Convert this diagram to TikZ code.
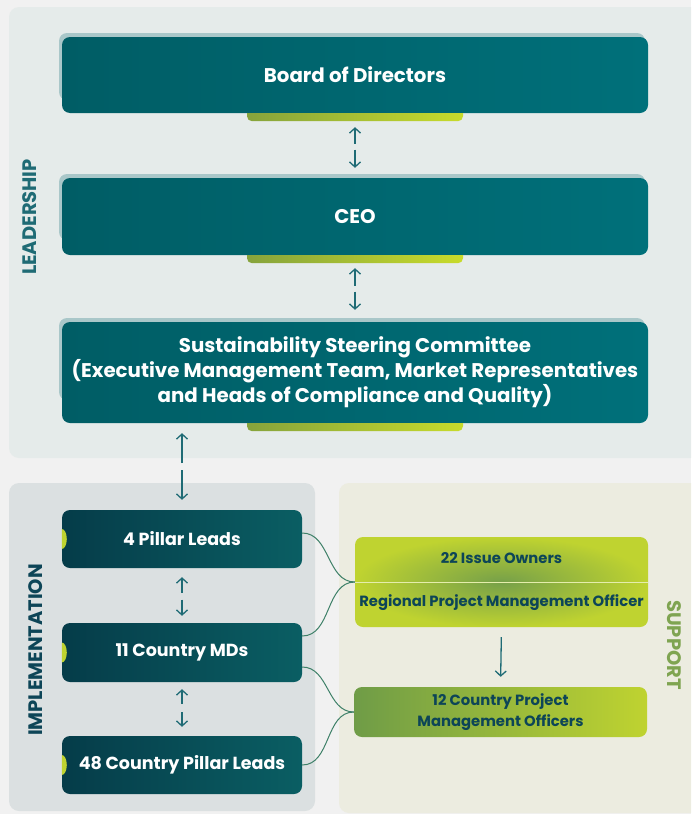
\documentclass[tikz,border=0pt]{standalone}
\usepackage{fontspec}
\setmainfont{Poppins}
\usetikzlibrary{arrows.meta,calc}

\definecolor{pageBg}{HTML}{F1F1F1}
\definecolor{leadPanel}{HTML}{E5EBEA}
\definecolor{implPanel}{HTML}{DBE0E1}
\definecolor{suppPanel}{HTML}{ECECE0}
\definecolor{leadA}{HTML}{005D65}
\definecolor{leadB}{HTML}{00707A}
\definecolor{leadShadow}{HTML}{A9C7C9}
\definecolor{barA}{HTML}{86A33C}
\definecolor{barB}{HTML}{C8DB2B}
\definecolor{implA}{HTML}{053C49}
\definecolor{implB}{HTML}{0A5E63}
\definecolor{suppOut}{HTML}{BFD330}
\definecolor{suppIn}{HTML}{76A049}
\definecolor{suppDark}{HTML}{6F9C47}
\definecolor{darkText}{HTML}{0D4557}
\definecolor{arrowCol}{HTML}{1F6B75}
\definecolor{linkCol}{HTML}{3E8068}
\definecolor{suppLabel}{HTML}{7FA451}

\tikzstyle{panel}=[rounded corners=10pt]
\tikzstyle{lShadow}=[fill=leadShadow, rounded corners=8pt]
\tikzstyle{lBox}=[rounded corners=8pt, minimum width=586pt, inner sep=0pt, align=center, text=white, left color=leadA, right color=leadB, font=\bfseries\fontsize{19.8}{25}\selectfont]
\tikzstyle{gBar}=[left color=barA, right color=barB]
\tikzstyle{iBox}=[rounded corners=8pt, minimum width=240pt, minimum height=58pt, inner sep=0pt, align=center, text=white, left color=implA, right color=implB, font=\bfseries\fontsize{17.5}{21}\selectfont]
\tikzstyle{notch}=[fill=suppOut]
\tikzstyle{sBox}=[rounded corners=8pt, minimum width=293pt, inner sep=0pt, align=center, text=darkText, font=\bfseries\fontsize{14.8}{21}\selectfont]
\tikzstyle{sText}=[inner sep=0pt, text=darkText, font=\bfseries\fontsize{14.8}{19}\selectfont]
\tikzstyle{side}=[rotate=90, font=\bfseries\fontsize{19.5}{20}\selectfont]
\tikzstyle{tip}=[draw=arrowCol, line width=1.3pt, -{Straight Barb[length=5pt,width=11pt]}]
\tikzstyle{link}=[draw=linkCol, line width=1pt]

\begin{document}
\begin{tikzpicture}[x=1pt, y=-1pt]

                % page and the three panels
                \fill[pageBg] (0,0) rectangle (691,814);
                \useasboundingbox (0,0) rectangle (691,814);
                \begin{scope}
                \clip (0,0) rectangle (691,814);
                \fill[panel, leadPanel] (9,7) rectangle (705,458);
                \fill[panel, implPanel] (9,483) rectangle (315,811);
                \fill[panel, suppPanel] (339,483) rectangle (705,813);
                \end{scope}

                \draw (30,217) node[side, text=arrowCol] (lead) {LEADERSHIP};
                \draw (36,650) node[side, text=darkText] (impl) {IMPLEMENTATION};
                \draw (674,645) node[side, rotate=180, text=suppLabel] (supp) {SUPPORT};

                % leadership
                \fill[lShadow] (59,33) rectangle (645,100);
                \draw (355,75) node[lBox, minimum height=76pt] (bod) {Board of Directors};
                \fill[lShadow] (59,174) rectangle (645,240);
                \draw (355,216.5) node[lBox, minimum height=77pt] (ceo) {CEO};
                \fill[lShadow] (59,318) rectangle (645,400);
                \draw (355,372.5) node[lBox, minimum height=101pt] (ssc) {Sustainability Steering Committee\\(Executive Management Team, Market Representatives\\and Heads of Compliance and Quality)};

                \shade[gBar] ($(bod.south)+(-108,0)$) [rounded corners=5pt] -- ++(0,8) -- ++(216,0) [sharp corners] -- ++(0,-8) -- cycle;
                \shade[gBar] ($(ceo.south)+(-108,0)$) [rounded corners=5pt] -- ++(0,8) -- ++(216,0) [sharp corners] -- ++(0,-8) -- cycle;
                \shade[gBar] ($(ssc.south)+(-108,0)$) [rounded corners=5pt] -- ++(0,8) -- ++(216,0) [sharp corners] -- ++(0,-8) -- cycle;

                % implementation
                \draw (182,539) node[iBox] (pl) {4 Pillar Leads};
                \draw (182,652.5) node[iBox, minimum height=59pt] (md) {11 Country MDs};
                \draw (182,765) node[iBox] (cpl) {48 Country Pillar Leads};
                \fill[notch] ($(pl.west)+(0,10)$) arc[start angle=90, end angle=-90, x radius=5, y radius=10] -- cycle;
                \fill[notch] ($(md.west)+(0,10)$) arc[start angle=90, end angle=-90, x radius=5, y radius=10] -- cycle;
                \fill[notch] ($(cpl.west)+(0,10)$) arc[start angle=90, end angle=-90, x radius=5, y radius=10] -- cycle;

                % support
                \draw (501.5,582) node[sBox, minimum height=90pt, inner color=suppIn, outer color=suppOut] (io) {};
                \draw[white!60!suppOut, line width=0.6pt] (io.west) -- (io.east);
                \draw (501.5,558) node[sText] (ioTop) {22 Issue Owners};
                \draw (501.5,603) node[sText] (ioBot) {Regional Project Management Officer};
                \draw (500.5,712) node[sBox, minimum height=50pt, left color=suppDark, right color=suppOut] (cpo) {12 Country Project\\Management Officers};

                % arrows
                \coordinate (m1) at ($(bod.south)!.5!(ceo.north)$);
                \coordinate (m2) at ($(ceo.south)!.5!(ssc.north)$);
                \coordinate (m3) at ($(ssc.south -| pl.north)!.5!(pl.north)$);
                \coordinate (m4) at ($(pl.south)!.5!(md.north)$);
                \coordinate (m5) at ($(md.south)!.5!(cpl.north)$);
                \draw[tip, shorten <=2pt, shorten >=14pt] (m1) -- (bod.south);
                \draw[tip, shorten <=4pt, shorten >=10pt] (m1) -- (ceo.north);
                \draw[tip, shorten <=3pt, shorten >=13pt] (m2) -- (ceo.south);
                \draw[tip, shorten <=3pt, shorten >=12pt] (m2) -- (ssc.north);
                \draw[tip, shorten <=3.5pt, shorten >=10pt] (m3) -- (ssc.south -| pl.north);
                \draw[tip, shorten <=3.5pt, shorten >=10pt] (m3) -- (pl.north);
                \draw[tip, shorten <=3pt, shorten >=9pt] (m4) -- (pl.south);
                \draw[tip, shorten <=4pt, shorten >=7pt] (m4) -- (md.north);
                \draw[tip, shorten <=5pt, shorten >=7pt] (m5) -- (md.south);
                \draw[tip, shorten <=3pt, shorten >=9pt] (m5) -- (cpl.north);
                \draw[tip, shorten <=10pt, shorten >=10pt] (io.south) -- (cpo.north);

                % links to support
                \path
                    ($(pl.east)+(0,-6)$) edge[link, out=0, in=180] (io.west)
                    ($(md.east)+(0,-16.5)$) edge[link, out=0, in=180] (io.west)
                    ($(md.east)+(0,14.5)$) edge[link, out=0, in=180] (cpo.west)
                    (cpl.east) edge[link, out=0, in=180] (cpo.west)
                ;

        \end{tikzpicture}
\end{document}
